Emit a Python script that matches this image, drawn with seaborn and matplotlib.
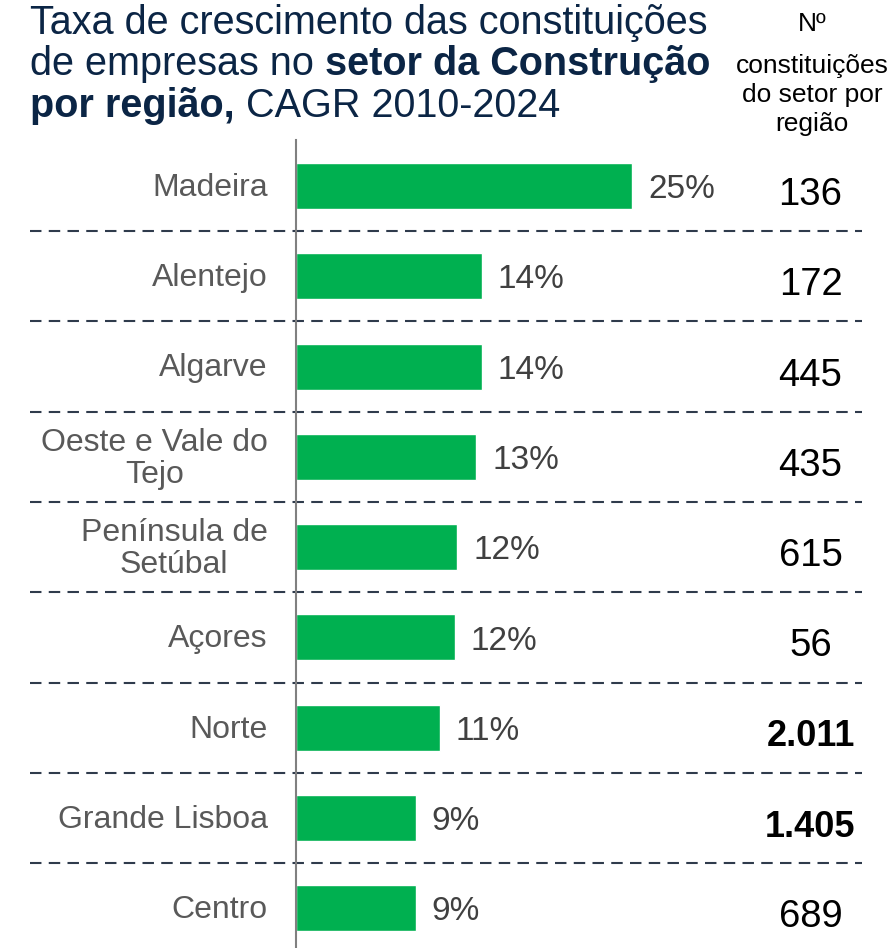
import matplotlib.pyplot as plt
import seaborn as sns
import pandas as pd

# dados
regioes = ['Madeira', 'Alentejo', 'Algarve', 'Oeste e Vale do\nTejo', 'Península de\nSetúbal',
           'Açores', 'Norte', 'Grande Lisboa', 'Centro']
cagr = [25.0, 13.8, 13.8, 13.4, 12.0, 11.8, 10.7, 8.9, 8.9]
cagr_labels = ['25%', '14%', '14%', '13%', '12%', '12%', '11%', '9%', '9%']
n_constituicoes = ['136', '172', '445', '435', '615', '56', '2.011', '1.405', '689']
destaque = [False, False, False, False, False, False, True, True, False]

df = pd.DataFrame({'regiao': regioes, 'cagr': cagr})

sns.set_style('white')
plt.rcParams['font.family'] = ['Liberation Sans', 'DejaVu Sans']

fig = plt.figure(figsize=(8.92, 9.48), dpi=100)
# eixo das barras: x 296..862 px, y 140..948 px
ax = fig.add_axes([296 / 892, 0, 566 / 892, 808 / 948])

sns.barplot(data=df, x='cagr', y='regiao', color='#00b050', width=0.51,
            saturation=1, ax=ax, orient='h')
ax.set_xlim(0, 42.1)
ax.set_ylim(8.44, -0.51)
ax.set_xlabel('')
ax.set_ylabel('')
ax.set_xticks([])
ax.set_yticks([])
for s in ['top', 'right', 'bottom']:
    ax.spines[s].set_visible(False)
ax.spines['left'].set_color('#808080')
ax.spines['left'].set_linewidth(1.5)

tr = ax.get_yaxis_transform()
for i, (reg, v, lab, n, b) in enumerate(zip(regioes, cagr, cagr_labels, n_constituicoes, destaque)):
    ax.text(-0.05, i + 0.02, reg, transform=tr, ha='right', va='center', multialignment='center',
            fontsize=23, color='#595959', linespacing=1.1)
    ax.text(v + 1.2, i + 0.04, lab, ha='left', va='center', fontsize=24, color='#404040')
    ax.text(0.909, i + 0.1, n, transform=tr, ha='center', va='center',
            fontsize=26 if b else 27.5, color='black', fontweight='bold' if b else 'normal')

# linhas tracejadas entre regiões
for i in range(len(regioes) - 1):
    ax.plot([-0.47, 1.0], [i + 0.5, i + 0.5], transform=tr, color='#2f3b4c',
            linestyle=(0, (5.5, 3.5)), linewidth=1.5, clip_on=False)

# título
cor_titulo = '#0b2545'
fs_t = 28.5
fig.text(30 / 892, 1 - 23 / 948, 'Taxa de crescimento das constituições', fontsize=fs_t,
         color=cor_titulo, va='center', ha='left')
t1 = fig.text(30 / 892, 1 - 64 / 948, 'de empresas no ', fontsize=fs_t,
              color=cor_titulo, va='center', ha='left')
fig.canvas.draw()
bb = t1.get_window_extent()
fig.text(bb.x1 / 892, 1 - 64 / 948, 'setor da Construção', fontsize=fs_t, fontweight='bold',
         color=cor_titulo, va='center', ha='left')
t2 = fig.text(30 / 892, 1 - 106 / 948, 'por região,', fontsize=fs_t, fontweight='bold',
              color=cor_titulo, va='center', ha='left')
fig.canvas.draw()
bb = t2.get_window_extent()
fig.text(bb.x1 / 892, 1 - 106 / 948, ' CAGR 2010-2024', fontsize=fs_t,
         color=cor_titulo, va='center', ha='left')

# cabeçalho da coluna
fig.text(812 / 892, 1 - 24 / 948, 'Nº', fontsize=19, color='black', ha='center', va='center')
fig.text(812 / 892, 1 - 95 / 948, 'constituições\ndo setor por\nregião', fontsize=19,
         color='black', ha='center', va='center', multialignment='center', linespacing=1.28)

fig.savefig('out.png', dpi=100)
